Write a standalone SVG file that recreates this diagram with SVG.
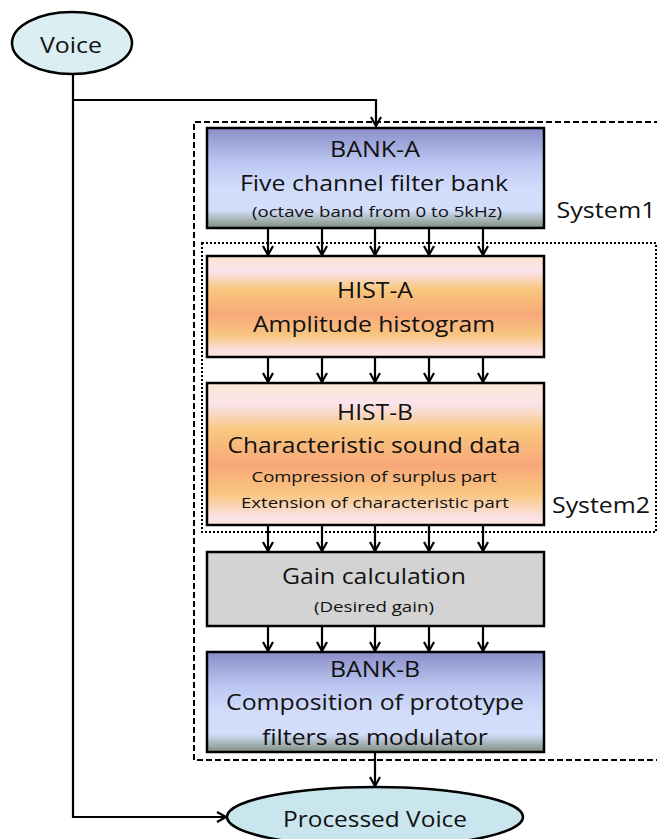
<svg xmlns="http://www.w3.org/2000/svg" width="657" height="839" viewBox="0 0 657 839">
<style>
.t{font-family:"Open Sans","Liberation Sans",Arial,sans-serif;fill:#111;text-anchor:middle}
.b{font-size:21px}
.s{font-size:14.5px}
.box{stroke:#000;stroke-width:2.5}
.ln{fill:none;stroke:#000;stroke-width:2.2}
</style>
<defs>
<linearGradient id="gBlue" x1="0" y1="0" x2="0" y2="1">
<stop offset="0" stop-color="#8a8ec8"/>
<stop offset="0.35" stop-color="#bcc8f2"/>
<stop offset="0.6" stop-color="#d1dcfb"/>
<stop offset="0.82" stop-color="#d3defc"/>
<stop offset="1" stop-color="#7f8f7c"/>
</linearGradient>
<linearGradient id="gPeach" x1="0" y1="0" x2="0" y2="1">
<stop offset="0" stop-color="#fbe6d2"/>
<stop offset="0.15" stop-color="#fbe3ec"/>
<stop offset="0.33" stop-color="#f8c77e"/>
<stop offset="0.58" stop-color="#f8a87a"/>
<stop offset="0.78" stop-color="#f8c67f"/>
<stop offset="0.95" stop-color="#fbe2e8"/>
<stop offset="1" stop-color="#fbe7d6"/>
</linearGradient>
<marker id="ah" viewBox="0 0 12 12" refX="11" refY="6" markerWidth="12" markerHeight="12" markerUnits="userSpaceOnUse" orient="auto">
<path d="M2,1 L11,6 L2,11" fill="none" stroke="#000" stroke-width="2.2"/>
</marker>
</defs>

<g id="system1">
<path d="M660,122 H194 V760 H660" fill="none" stroke="#000" stroke-width="2" stroke-dasharray="6,3"/>
<text class="t b" x="606" y="218" textLength="99" lengthAdjust="spacingAndGlyphs">System1</text>
</g>
<g id="system2">
<rect x="202" y="243" width="454" height="289" fill="none" stroke="#000" stroke-width="2" stroke-dasharray="2,2"/>
<text class="t b" x="601" y="513" textLength="98" lengthAdjust="spacingAndGlyphs">System2</text>
</g>

<g id="connectors">
<path class="ln" d="M73,74 V100 H376 V126" marker-end="url(#ah)"/>
<path class="ln" d="M73,100 V817 H226" marker-end="url(#ah)"/>
<path class="ln" d="M375,752 V786" marker-end="url(#ah)"/>
<path class="ln" d="M268,228 V255" marker-end="url(#ah)"/>
<path class="ln" d="M322,228 V255" marker-end="url(#ah)"/>
<path class="ln" d="M375,228 V255" marker-end="url(#ah)"/>
<path class="ln" d="M429,228 V255" marker-end="url(#ah)"/>
<path class="ln" d="M483,228 V255" marker-end="url(#ah)"/>
<path class="ln" d="M268,357 V382" marker-end="url(#ah)"/>
<path class="ln" d="M322,357 V382" marker-end="url(#ah)"/>
<path class="ln" d="M375,357 V382" marker-end="url(#ah)"/>
<path class="ln" d="M429,357 V382" marker-end="url(#ah)"/>
<path class="ln" d="M483,357 V382" marker-end="url(#ah)"/>
<path class="ln" d="M268,525 V551" marker-end="url(#ah)"/>
<path class="ln" d="M322,525 V551" marker-end="url(#ah)"/>
<path class="ln" d="M375,525 V551" marker-end="url(#ah)"/>
<path class="ln" d="M429,525 V551" marker-end="url(#ah)"/>
<path class="ln" d="M483,525 V551" marker-end="url(#ah)"/>
<path class="ln" d="M268,626 V651" marker-end="url(#ah)"/>
<path class="ln" d="M322,626 V651" marker-end="url(#ah)"/>
<path class="ln" d="M375,626 V651" marker-end="url(#ah)"/>
<path class="ln" d="M429,626 V651" marker-end="url(#ah)"/>
<path class="ln" d="M483,626 V651" marker-end="url(#ah)"/>
</g>

<g id="voice">
<ellipse cx="72" cy="43" rx="60" ry="31" fill="#daeef3" class="box"/>
<text class="t b" x="71" y="53" textLength="62" lengthAdjust="spacingAndGlyphs">Voice</text>
</g>

<g id="bank-a">
<rect x="207" y="128" width="337" height="100" fill="url(#gBlue)" class="box"/>
<text class="t b" x="375" y="157" textLength="90" lengthAdjust="spacingAndGlyphs">BANK-A</text>
<text class="t b" x="374" y="191" textLength="268" lengthAdjust="spacingAndGlyphs">Five channel filter bank</text>
<text class="t s" x="377" y="217" textLength="250" lengthAdjust="spacingAndGlyphs">(octave band from 0 to 5kHz)</text>
</g>

<g id="hist-a">
<rect x="207" y="256" width="337" height="101" fill="url(#gPeach)" class="box"/>
<text class="t b" x="375" y="298" textLength="76" lengthAdjust="spacingAndGlyphs">HIST-A</text>
<text class="t b" x="374" y="332" textLength="242" lengthAdjust="spacingAndGlyphs">Amplitude histogram</text>
</g>

<g id="hist-b">
<rect x="207" y="383" width="337" height="142" fill="url(#gPeach)" class="box"/>
<text class="t b" x="375" y="420" textLength="76" lengthAdjust="spacingAndGlyphs">HIST-B</text>
<text class="t b" x="374" y="453" textLength="293" lengthAdjust="spacingAndGlyphs">Characteristic sound data</text>
<text class="t s" x="374" y="482" textLength="245" lengthAdjust="spacingAndGlyphs">Compression of surplus part</text>
<text class="t s" x="375" y="508" textLength="268" lengthAdjust="spacingAndGlyphs">Extension of characteristic part</text>
</g>

<g id="gain">
<rect x="207" y="552" width="337" height="74" fill="#d3d3d3" class="box"/>
<text class="t b" x="374" y="584" textLength="184" lengthAdjust="spacingAndGlyphs">Gain calculation</text>
<text class="t s" x="374" y="612" textLength="120" lengthAdjust="spacingAndGlyphs">(Desired gain)</text>
</g>

<g id="bank-b">
<rect x="207" y="652" width="337" height="100" fill="url(#gBlue)" class="box"/>
<text class="t b" x="375" y="677" textLength="90" lengthAdjust="spacingAndGlyphs">BANK-B</text>
<text class="t b" x="375" y="710" textLength="298" lengthAdjust="spacingAndGlyphs">Composition of prototype</text>
<text class="t b" x="375" y="745" textLength="226" lengthAdjust="spacingAndGlyphs">filters as modulator</text>
</g>

<g id="processed-voice">
<ellipse cx="375" cy="817" rx="148" ry="30" fill="#c9e6ee" class="box"/>
<text class="t b" x="375" y="827" textLength="184" lengthAdjust="spacingAndGlyphs">Processed Voice</text>
</g>
</svg>
